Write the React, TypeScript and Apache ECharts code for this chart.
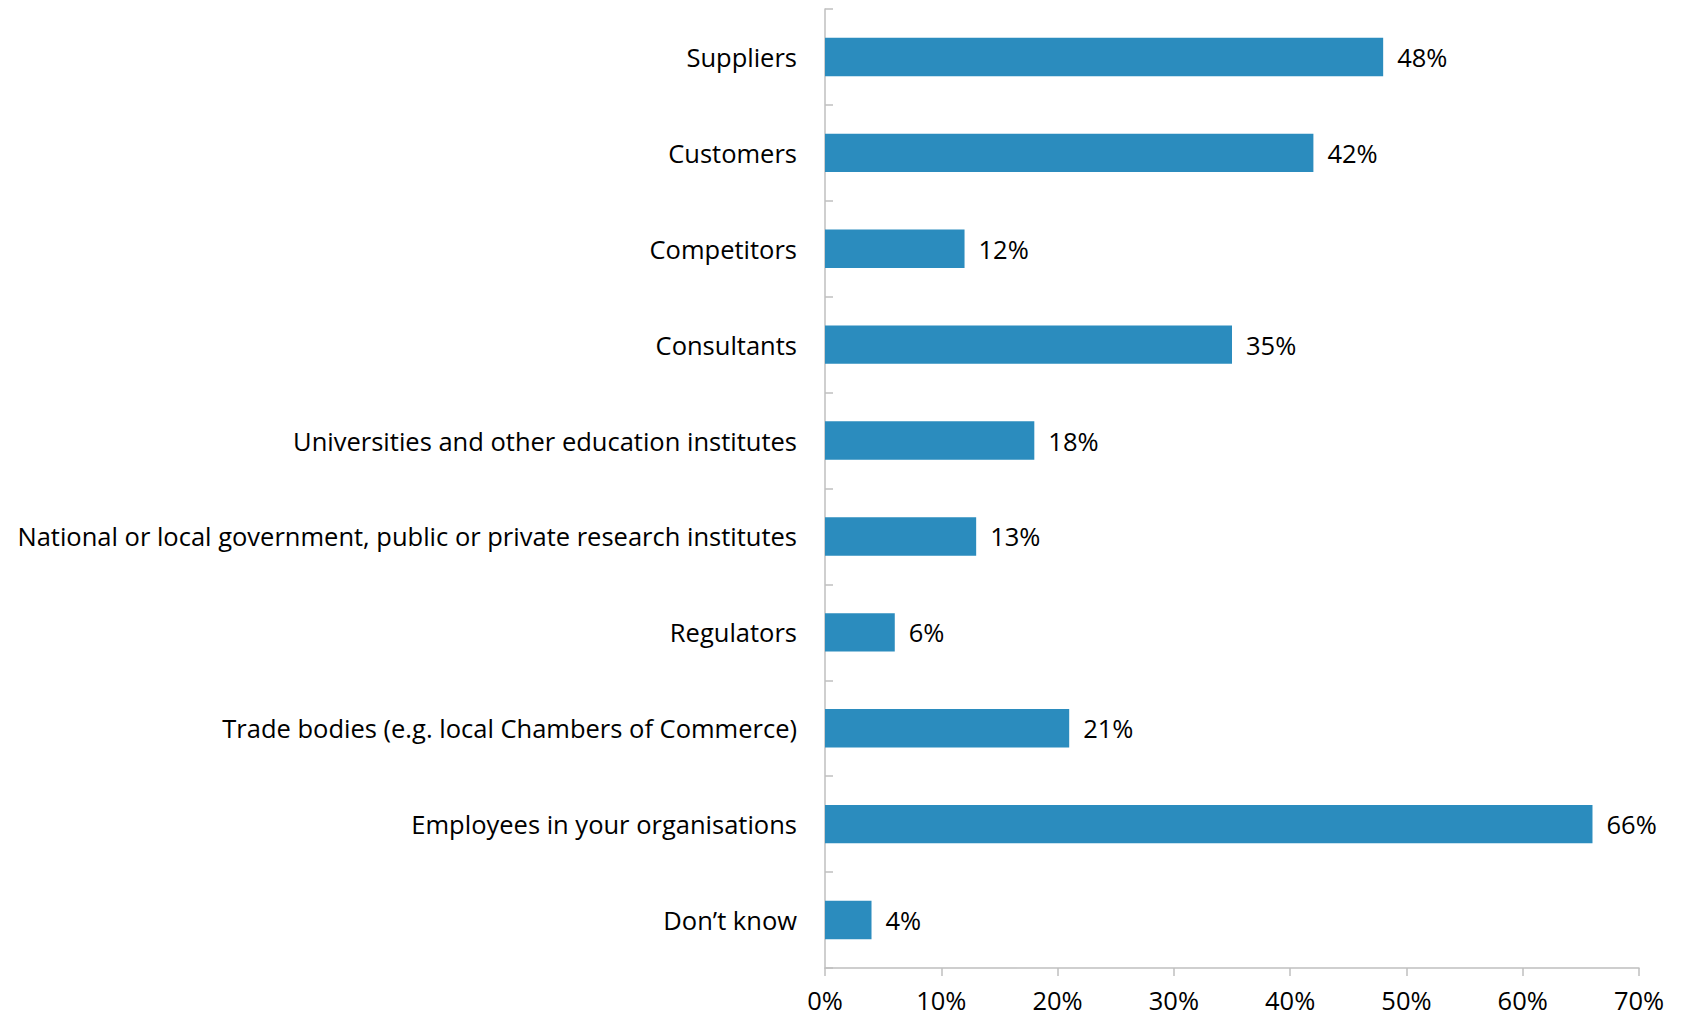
import React, { useEffect, useRef } from "react";
import * as echarts from "echarts";

const categories = [
  "Suppliers",
  "Customers",
  "Competitors",
  "Consultants",
  "Universities and other education institutes",
  "National or local government, public or private research institutes",
  "Regulators",
  "Trade bodies (e.g. local Chambers of Commerce)",
  "Employees in your organisations",
  "Don\u2019t know",
];
const values = [48, 42, 12, 35, 18, 13, 6, 21, 66, 4];
const xTicks = { min: 0, max: 70, interval: 10 };

const FONT = "Open Sans";
const FS = 25.5;

export default function App() {
  const ref = useRef<HTMLDivElement>(null);
  useEffect(() => {
    document.body.style.margin = "0";
    const chart = echarts.init(ref.current!, null, { renderer: "svg" });
    chart.setOption({
      animation: false,
      grid: { left: 825, right: 43, top: 9, bottom: 51, containLabel: false },
      xAxis: {
        type: "value",
        min: xTicks.min,
        max: xTicks.max,
        interval: xTicks.interval,
        splitLine: { show: false },
        axisLine: { show: true, lineStyle: { color: "#bfbfbf", width: 1.5 } },
        axisTick: { show: true, length: 8, lineStyle: { color: "#bfbfbf", width: 1.5 } },
        axisLabel: {
          formatter: "{value}%",
          color: "#000",
          fontFamily: FONT,
          fontSize: FS,
          margin: 19,
        },
      },
      yAxis: {
        type: "category",
        data: categories,
        inverse: true,
        axisLine: { show: true, lineStyle: { color: "#bfbfbf", width: 1.5 } },
        axisTick: { show: true, inside: true, length: 8, lineStyle: { color: "#bfbfbf", width: 1.5 } },
        axisLabel: {
          color: "#000",
          fontFamily: FONT,
          fontSize: FS,
          margin: 28,
          padding: [0, 0, 4, 0],
        },
      },
      series: [
        {
          type: "bar",
          data: values,
          barCategoryGap: "60%",
          itemStyle: { color: "#2B8CBE" },
          label: {
            show: true,
            position: "right",
            distance: 14,
            formatter: "{c}%",
            color: "#000",
            fontFamily: FONT,
            fontSize: FS,
            padding: [0, 0, 3, 0],
          },
        },
      ],
    });
    return () => chart.dispose();
  }, []);
  return <div ref={ref} style={{ width: 1682, height: 1019 }} />;
}
